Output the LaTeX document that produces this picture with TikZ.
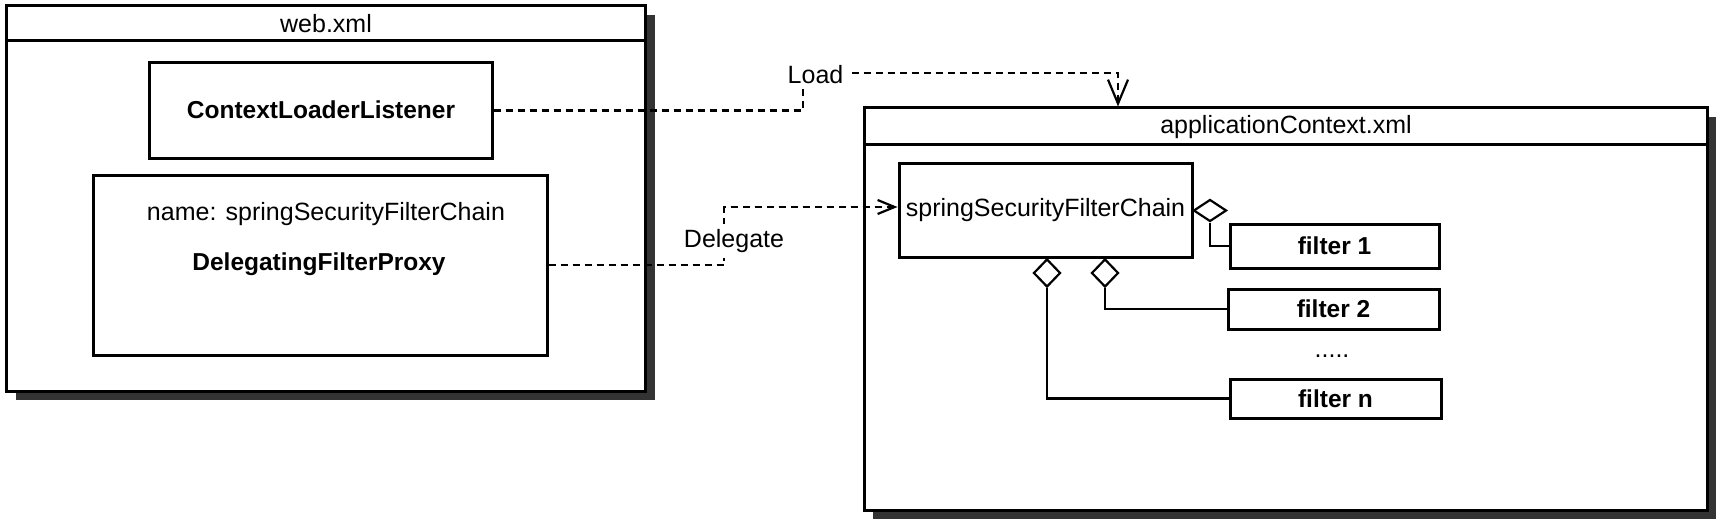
\documentclass[tikz,border=0pt]{standalone}
\usepackage{fontspec}
\setmainfont{Liberation Sans}
\usetikzlibrary{arrows.meta,shapes.geometric}
\begin{document}
\begin{tikzpicture}[x=1pt,y=-1pt,
  frame/.style={draw, line width=3pt, fill=white, inner sep=0pt},
  box/.style={draw, line width=3pt, fill=white, inner sep=0pt},
  shadowfill/.style={fill=black!80, draw=none},
  conn/.style={line width=2.2pt},
  dashconn/.style={line width=2.2pt, dash pattern=on 7pt off 5pt},
  bigtip/.style={-{Straight Barb[length=24pt,width=20pt,line width=2.2pt]}},
  smalltip/.style={-{Straight Barb[length=17pt,width=14pt,line width=2.2pt]}},
  agg/.style={diamond, draw, line width=2.2pt, inner sep=0pt, fill=white},
  lbl/.style={font=\fontsize{25}{29}\selectfont, inner sep=0pt},
  blbl/.style={font=\fontsize{24.5}{29}\selectfont\bfseries, inner sep=0pt},
  cover/.style={font=\fontsize{25}{29}\selectfont, fill=white, inner xsep=6pt, inner ysep=5pt},
]
\useasboundingbox (0,0) rectangle (1720,524);
\fill[white] (0,0) rectangle (1720,524);

% ---------- web.xml ----------
\fill[shadowfill] (15.5,15) rectangle (654.5,400);
\node[frame, minimum width=639pt, minimum height=385pt] (web) at (326,198.5) {};
\draw[line width=3pt] ([yshift=-36pt]web.north west) -- ([yshift=-36pt]web.north east);
\node[lbl] (webtitle) at (326,24) {web.xml};

\node[box, minimum width=343pt, minimum height=95pt] (cll) at (320.5,110.5) {};
\node[blbl] (clltext) at (321,110) {ContextLoaderListener};

\node[box, minimum width=454pt, minimum height=180pt] (dfp) at (320,265) {};
\node[lbl] (dfpname) at (326,214) {name: springSecurityFilterChain};
\node[blbl] (dfptext) at (319,264) {DelegatingFilterProxy};

% ---------- applicationContext.xml ----------
\fill[shadowfill] (873,117) rectangle (1716,519);
\node[frame, minimum width=843pt, minimum height=402pt] (app) at (1285.5,309) {};
\draw[line width=3pt] ([yshift=-37.5pt]app.north west) -- ([yshift=-37.5pt]app.north east);
\node[lbl] (apptitle) at (1286,127) {applicationContext.xml};

\node[box, minimum width=293pt, minimum height=94pt] (ssfc) at (1045.5,210) {};
\node[lbl] (ssfctext) at (1045.5,210) {springSecurityFilterChain};

\node[box, minimum width=209pt, minimum height=44pt, blbl] (f1) at (1334.5,246) {filter 1};
\node[box, minimum width=211pt, minimum height=40pt, blbl] (f2) at (1333.5,309) {filter 2};
\node[box, minimum width=211pt, minimum height=39pt, blbl] (fn) at (1335.5,398.5) {filter n};
\node[lbl] (dots) at (1332,356) {.....};

% aggregation diamonds
\node[agg, minimum width=33pt, minimum height=22pt] (dR) at (1210,210.5) {};
\node[agg, minimum width=27pt, minimum height=28pt] (dA) at (1047,273) {};
\node[agg, minimum width=27pt, minimum height=28pt] (dB) at (1105,273) {};

\draw[conn] (dR.south) |- (f1.west);
\draw[conn] (dB.south) |- (f2.west);
\draw[conn] (dA.south) |- (fn.west);

% ---------- dependencies ----------
\coordinate (lc) at (803,73);
\coordinate (lt) at (1118,73);
\draw[dashconn, bigtip] (cll.east) -| (lc) -- (lt) -- (lt |- app.north);
\node[cover] (loadlbl) at (815.5,75) {Load};

\coordinate (dc) at (724,207);
\draw[dashconn, smalltip] (dfp.east) -| (dc) -- (dc -| ssfc.west);
\node[cover] (delegatelbl) at (734,241) {Delegate};
\end{tikzpicture}
\end{document}
